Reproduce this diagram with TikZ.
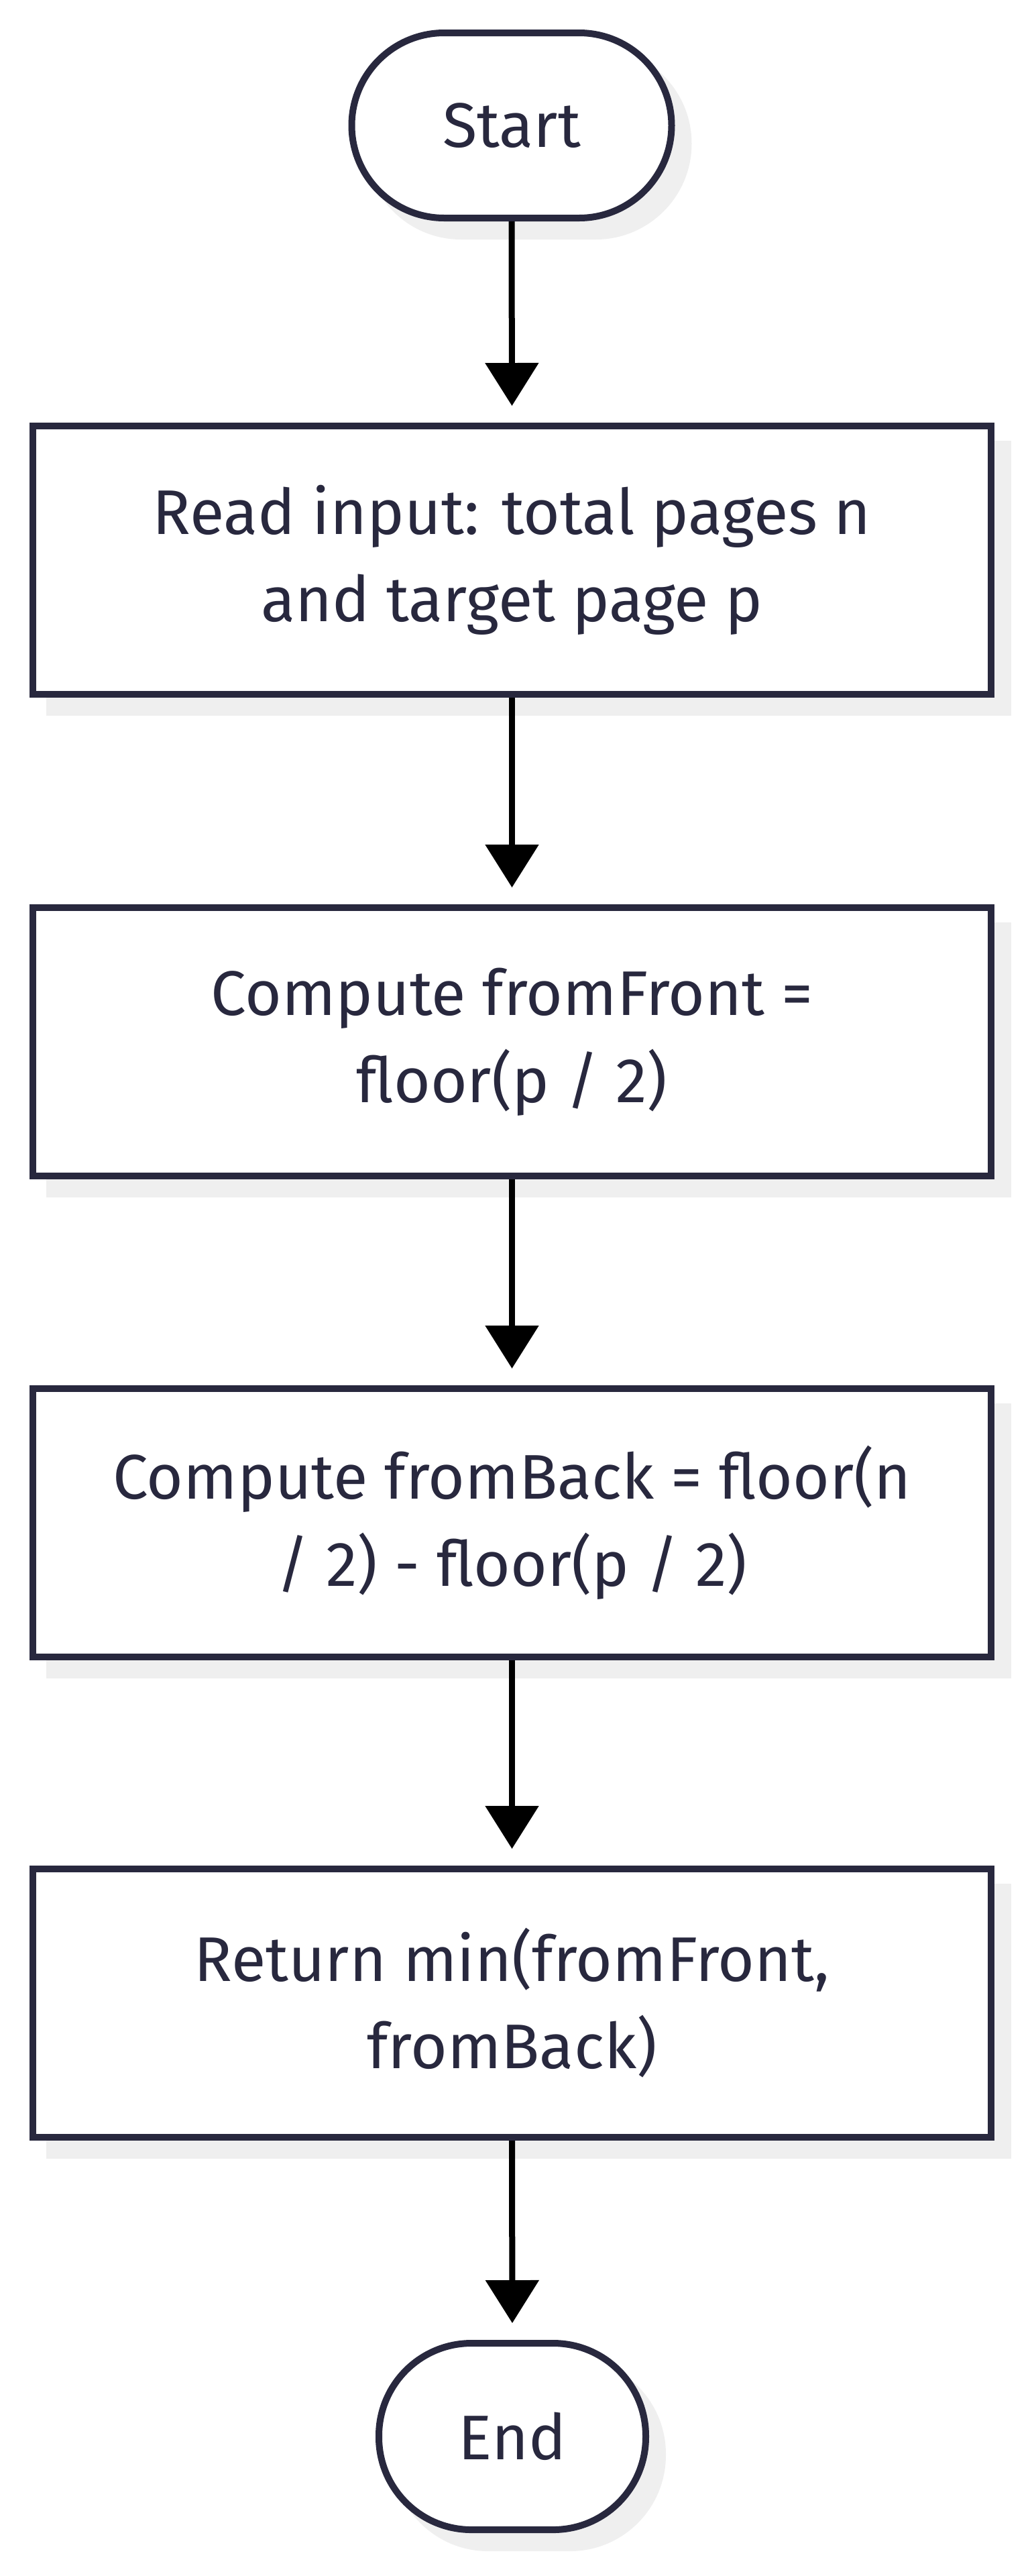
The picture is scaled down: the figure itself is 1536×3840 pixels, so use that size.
\documentclass[tikz,border=0pt]{standalone}
\usepackage{fontspec}
\setmainfont{Fira Sans}
\usetikzlibrary{arrows.meta,shadows}
\definecolor{bordc}{HTML}{28283E}
\definecolor{textc}{HTML}{28283E}
\definecolor{shadowc}{HTML}{EFEFEF}
\tikzset{
  base/.style={draw=bordc, line width=5pt, fill=white, text=textc, align=center,
    font=\fontsize{47pt}{65pt}\selectfont, inner sep=0pt,
    general shadow={shadow xshift=12.5pt, shadow yshift=-13.5pt, fill=shadowc, draw=shadowc, line width=5pt}},
  procbox/.style={base, rectangle, minimum width=714.5pt, minimum height=200pt},
  termbox/.style={base, rectangle, rounded corners=69pt},
  arr/.style={draw=black, line width=4.5pt, -{Triangle[length=32pt,width=39pt]}, shorten >=12.5pt}
}
\begin{document}
\begin{tikzpicture}[x=0.5pt,y=-0.5pt]
\useasboundingbox (0,0) rectangle (1536,3840);
\node[termbox, minimum width=238.5pt, minimum height=138pt] (start) at (763,187) {Start};
\node[procbox] (b1) at (763.5,835) {Read input: total pages n\\and target page p};
\node[procbox] (b2) at (763.5,1553) {Compute fromFront =\\floor(p / 2)};
\node[procbox] (b3) at (763.5,2270) {Compute fromBack = floor(n\\/ 2) - floor(p / 2)};
\node[procbox] (b4) at (763.5,2986) {Return min(fromFront,\\fromBack)};
\node[termbox, minimum width=199pt, minimum height=139pt] (end) at (764,3632) {End};
\draw[arr] (start.south) -- (b1.north);
\draw[arr] (b1.south) -- (b2.north);
\draw[arr] (b2.south) -- (b3.north);
\draw[arr] (b3.south) -- (b4.north);
\draw[arr] (b4.south) -- (end.north);
\end{tikzpicture}
\end{document}
